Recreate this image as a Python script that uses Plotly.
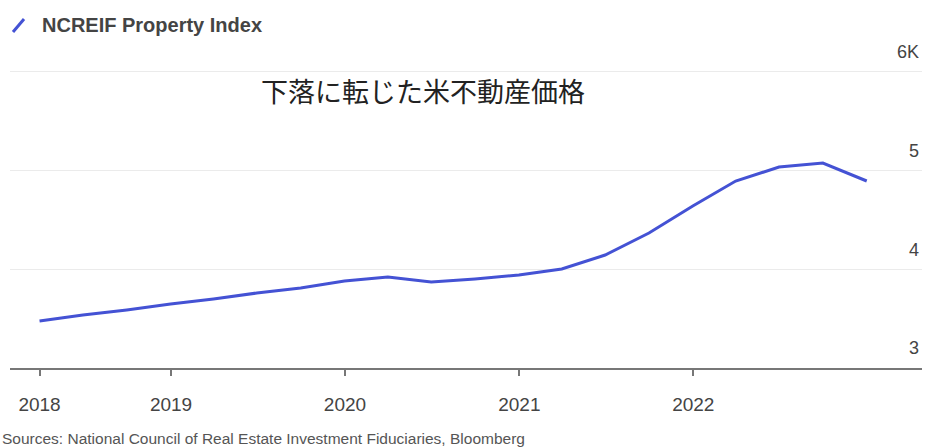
import plotly.graph_objects as go

# Quarterly NCREIF Property Index (quarter-end dates)
dates = ["2018-03-31", "2018-06-30", "2018-09-30", "2018-12-31",
         "2019-03-31", "2019-06-30", "2019-09-30", "2019-12-31",
         "2020-03-31", "2020-06-30", "2020-09-30", "2020-12-31",
         "2021-03-31", "2021-06-30", "2021-09-30", "2021-12-31",
         "2022-03-31", "2022-06-30", "2022-09-30", "2022-12-31"]
values = [3476, 3537, 3588, 3648,
          3699, 3760, 3810, 3881,
          3922, 3871, 3902, 3942,
          4003, 4145, 4368, 4641,
          4895, 5036, 5077, 4895]

series_name = "NCREIF Property Index"
title_jp = "下落に転じた米不動産価格"
source_text = "Sources: National Council of Real Estate Investment Fiduciaries, Bloomberg"

x_tickvals = ["2018-03-31", "2019-01-01", "2020-01-01", "2021-01-01", "2022-01-01"]
x_ticktext = ["2018", "2019", "2020", "2021", "2022"]
y_tickvals = [3000, 4000, 5000, 6000]
y_ticktext = ["3", "4", "5", "6K"]

LINE = "#4452d4"
TXT = "#444444"

fig = go.Figure()
fig.add_trace(go.Scatter(x=dates, y=values, mode="lines", name=series_name,
                         line=dict(color=LINE, width=3), showlegend=False))

fig.update_layout(
    width=928, height=448,
    margin=dict(l=10, r=6, t=40, b=80),
    paper_bgcolor="white", plot_bgcolor="white",
    font=dict(family="Arial, Liberation Sans, sans-serif", color=TXT),
    xaxis=dict(type="date", range=["2018-01-28", "2023-04-26"],
               showgrid=False, zeroline=False,
               showline=True, linecolor="#777777", linewidth=2,
               ticks="outside", ticklen=6, tickwidth=1.5, tickcolor="#777777",
               tickvals=x_tickvals, ticktext=x_ticktext,
               tickfont=dict(size=19, color=TXT),
               ticklabelstandoff=12),
    yaxis=dict(side="right", range=[3000, 6324],
               showgrid=True, gridcolor="#ebebeb", gridwidth=1,
               zeroline=False, showline=False, ticks="",
               tickvals=y_tickvals, ticktext=y_ticktext,
               ticklabelposition="inside", ticklabelshift=-20,
               tickfont=dict(size=18, color=TXT)),
    showlegend=False,
)

# legend-like header: diagonal icon + series name
fig.add_shape(type="line", xref="paper", yref="paper",
              x0=(13 - 10) / 910, y0=(368 - 32) / 328,
              x1=(24 - 10) / 910, y1=(368 - 19) / 328,
              line=dict(color=LINE, width=3))
fig.add_annotation(text=series_name, xref="paper", yref="paper",
                   x=(40 - 10) / 910, y=(368 - 25) / 328,
                   xanchor="left", yanchor="middle", showarrow=False,
                   font=dict(size=20, color="#444444", weight="bold",
                             family="Arial, sans-serif"))

fig.add_annotation(text=title_jp, xref="paper", yref="paper",
                   x=(422 - 10) / 910, y=(368 - 90) / 328,
                   xanchor="center", yanchor="middle", showarrow=False,
                   font=dict(size=27, color="#222222", family="Noto Sans CJK JP"))

fig.add_annotation(text=source_text, xref="paper", yref="paper",
                   x=-0.011, y=(368 - 438) / 328, xanchor="left", yanchor="middle",
                   showarrow=False,
                   font=dict(size=15.5, color="#555555", family="Arial, sans-serif"))

fig.write_html("out.html")
